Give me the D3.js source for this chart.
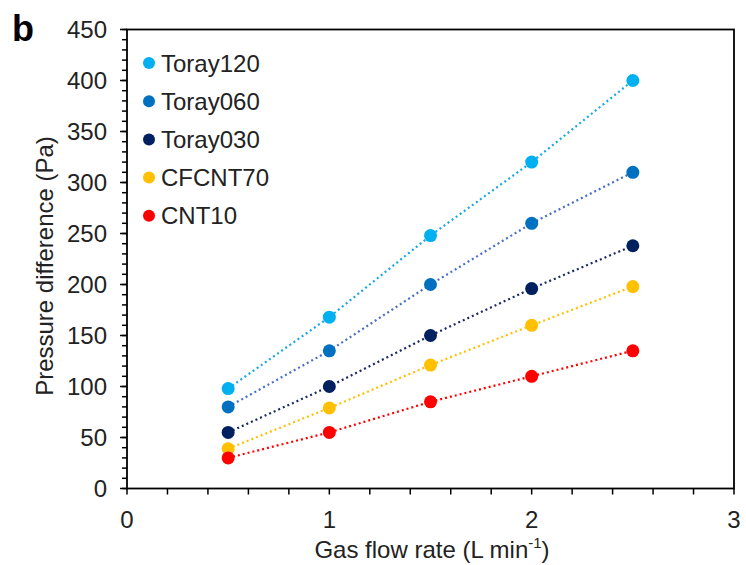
<!DOCTYPE html>
<html><head><meta charset="utf-8">
<script src="https://cdn.jsdelivr.net/npm/d3@7"></script>
<style>body{margin:0;background:#fff}svg{display:block}text{font-family:Arial,"Liberation Sans",sans-serif}</style>
</head><body>
<svg id="c" width="746" height="565"></svg>
<script>
const flowRates = [0.5, 1, 1.5, 2, 2.5];
const seriesNames = ["Toray120", "Toray060", "Toray030", "CFCNT70", "CNT10"];
const toray120 = [98, 168, 248, 320, 400];
const toray060 = [80, 135, 200, 260, 310];
const toray030 = [55, 100, 150, 196, 238];
const cfcnt70 = [39, 79, 121, 160, 198];
const cnt10 = [30, 55, 85, 110, 135];
const pointColors = ["#00B0F0", "#0070C0", "#002060", "#FFC000", "#FF0000"];
const lineColors = ["#1AA7E0", "#4A6FC4", "#1A2A66", "#FFC000", "#FF0000"];
const xTicks = [0, 1, 2, 3];
const yTicks = [0, 50, 100, 150, 200, 250, 300, 350, 400, 450];

const seriesValues = [toray120, toray060, toray030, cfcnt70, cnt10];
const svg = d3.select("#c");
const L = 127, R = 734, T = 29.5, B = 488.5;
const x = d3.scaleLinear().domain([0, 3]).range([L, R]);
const y = d3.scaleLinear().domain([0, 450]).range([B, T]);

// frame
svg.append("rect").attr("x", L).attr("y", T).attr("width", R - L).attr("height", B - T)
  .attr("fill", "none").attr("stroke", "#000").attr("stroke-width", 1.8);

// y axis
const yMinor = d3.range(0, 451, 10);
const gy = svg.append("g").attr("transform", `translate(${L},0)`);
gy.selectAll("line.mn").data(yMinor).join("line")
  .attr("x1", -5).attr("x2", 0).attr("y1", d => y(d)).attr("y2", d => y(d))
  .attr("stroke", "#000").attr("stroke-width", 1.5);
gy.selectAll("line.mj").data(yTicks).join("line")
  .attr("x1", -7).attr("x2", 0).attr("y1", d => y(d)).attr("y2", d => y(d))
  .attr("stroke", "#000").attr("stroke-width", 1.5);
gy.selectAll("text").data(yTicks).join("text")
  .attr("x", -20).attr("y", d => y(d)).attr("dy", "0.35em").attr("text-anchor", "end")
  .attr("font-size", 24).attr("fill", "#222").text(d => d);

// x axis
const xMinor = d3.range(0, 3.001, 0.2);
const gx = svg.append("g").attr("transform", `translate(0,${B})`);
gx.selectAll("line").data(xMinor).join("line")
  .attr("x1", d => x(d)).attr("x2", d => x(d)).attr("y1", 0).attr("y2", 6)
  .attr("stroke", "#000").attr("stroke-width", 1.5);
gx.selectAll("text").data(xTicks).join("text")
  .attr("x", d => x(d)).attr("y", 39).attr("text-anchor", "middle")
  .attr("font-size", 24).attr("fill", "#222").text(d => d);

// titles
const xt = svg.append("text").attr("x", 432).attr("y", 558).attr("text-anchor", "middle")
  .attr("font-size", 24).attr("fill", "#222");
xt.append("tspan").text("Gas flow rate (L min");
xt.append("tspan").attr("font-size", 15).attr("dy", -10).text("-1");
xt.append("tspan").attr("dy", 10).text(")");
svg.append("text").attr("transform", `translate(53,266) rotate(-90)`)
  .attr("text-anchor", "middle").attr("font-size", 24).attr("fill", "#222")
  .text("Pressure difference (Pa)");
svg.append("text").attr("x", 12).attr("y", 41).attr("font-size", 36).attr("font-weight", "bold")
  .attr("fill", "#000").text("b");

// series
const line = d3.line().x((d, i) => x(flowRates[i])).y(d => y(d));
seriesValues.forEach((vals, s) => {
  svg.append("path").attr("d", line(vals)).attr("fill", "none")
    .attr("stroke", lineColors[s]).attr("stroke-width", 2.2)
    .attr("stroke-dasharray", "2,3").attr("stroke-linecap", "butt");
});
seriesValues.forEach((vals, s) => {
  svg.append("g").selectAll("circle").data(vals).join("circle")
    .attr("cx", (d, i) => x(flowRates[i])).attr("cy", d => y(d)).attr("r", 6.5)
    .attr("fill", pointColors[s]);
});

// legend
const lg = svg.append("g");
seriesNames.forEach((n, i) => {
  const yy = 63 + i * 38.2;
  lg.append("circle").attr("cx", 149).attr("cy", yy).attr("r", 6).attr("fill", pointColors[i]);
  lg.append("text").attr("x", 161).attr("y", yy).attr("dy", "0.36em").attr("font-size", 24)
    .attr("fill", "#222").text(n);
});
</script>
</body></html>
